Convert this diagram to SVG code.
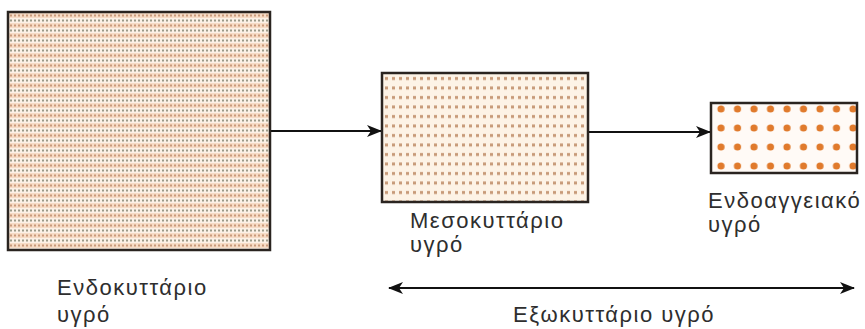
<svg xmlns="http://www.w3.org/2000/svg" width="865" height="329" viewBox="0 0 865 329">
<style>
.box{stroke:#2a2420;stroke-width:2.5}
.lbl{font-family:"Liberation Sans",Arial,sans-serif;font-size:22px;letter-spacing:1.5px;fill:#2e2e2e}
.conn{stroke:#111;stroke-width:2.2;fill:none}
</style>
<defs>
<pattern id="pBig" width="4" height="10" patternUnits="userSpaceOnUse" x="9" y="13">
<rect width="4" height="10" fill="#fcf1e6"/>
<rect x="0" y="0" width="4" height="5" fill="#f7dcc6"/>
<rect x="1" y="1.5" width="2" height="2" fill="#c99a7a"/>
<rect x="1" y="6.5" width="2" height="2" fill="#9a9a88"/>
</pattern>
<pattern id="pMid" width="7" height="9.5" patternUnits="userSpaceOnUse" x="383" y="74">
<rect width="7" height="9.5" fill="#fdf3e6"/>
<rect x="2" y="3" width="3" height="3" fill="#c79a78"/>
</pattern>
<pattern id="pSmall" width="16.5" height="19" patternUnits="userSpaceOnUse" x="713" y="100">
<rect width="16.5" height="19" fill="#fffaf6"/>
<circle cx="8" cy="9" r="3.6" fill="#e07a2c"/>
</pattern>
<marker id="ah" viewBox="0 0 15 12" refX="14" refY="6" markerWidth="15" markerHeight="12" markerUnits="userSpaceOnUse" orient="auto-start-reverse">
<path d="M0,0 L15,6 L0,12 L4,6 Z" fill="#111"/>
</marker>
</defs>
<g id="connectors">
<line class="conn" x1="270" y1="131" x2="381" y2="131" marker-end="url(#ah)"/>
<line class="conn" x1="588" y1="132" x2="710" y2="132" marker-end="url(#ah)"/>
<line class="conn" x1="389" y1="288" x2="854" y2="288" marker-start="url(#ah)" marker-end="url(#ah)"/>
</g>
<g id="intracellular">
<rect class="box" x="8" y="12" width="262" height="238" fill="url(#pBig)"/>
<text class="lbl" x="57" y="295">Ενδοκυττάριο</text>
<text class="lbl" x="57" y="322">υγρό</text>
</g>
<g id="interstitial">
<rect class="box" x="382" y="73" width="206" height="129" fill="url(#pMid)"/>
<text class="lbl" x="410" y="228">Μεσοκυττάριο</text>
<text class="lbl" x="410" y="252">υγρό</text>
</g>
<g id="intravascular">
<rect class="box" x="711" y="103" width="146" height="70" fill="url(#pSmall)"/>
<text class="lbl" x="708" y="208">Ενδοαγγειακό</text>
<text class="lbl" x="708" y="232">υγρό</text>
</g>
<g id="extracellular">
<text class="lbl" x="513" y="322">Εξωκυττάριο υγρό</text>
</g>
</svg>
